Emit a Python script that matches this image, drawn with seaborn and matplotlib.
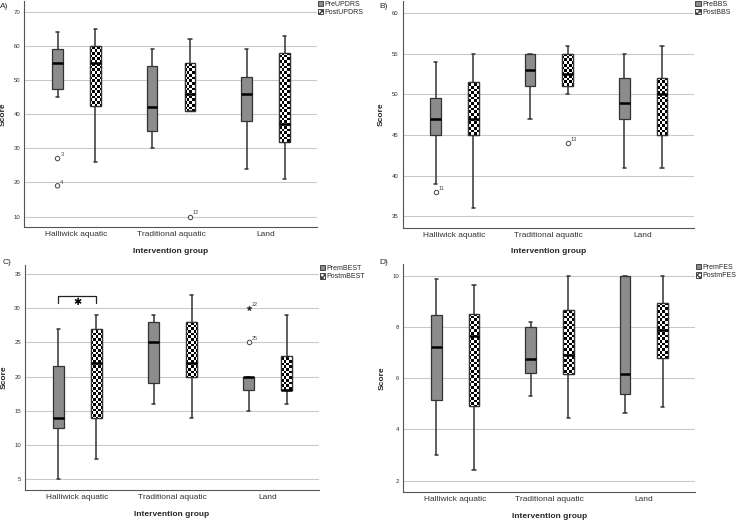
import numpy as np
import pandas as pd
import matplotlib.pyplot as plt
import seaborn as sns
from matplotlib.colors import same_color
from matplotlib.patches import Patch, PathPatch

groups = ["Halliwick aquatic", "Traditional aquatic", "Land"]
times = ["Pre", "Post"]

# five-number summaries: [whisker low, Q1, median, Q3, whisker high]
updrs_pre = [[45, 47.5, 55, 59, 64], [30, 35, 42, 54, 59], [24, 38, 46, 51, 59]]
updrs_post = [[26, 42.5, 55, 60, 65], [41, 41, 46, 55, 62], [21, 32, 37, 58, 63]]
updrs_outliers = [("Halliwick aquatic", "Pre", 27, "3", "o"),
                  ("Halliwick aquatic", "Pre", 19, "4", "o"),
                  ("Traditional aquatic", "Post", 10, "12", "o")]

bbs_pre = [[39, 45, 47, 49.5, 54], [47, 51, 53, 55, 55], [41, 47, 49, 52, 55]]
bbs_post = [[36, 45, 47, 51.5, 55], [50, 51, 52.5, 55, 56], [41, 45, 50, 52, 56]]
bbs_outliers = [("Halliwick aquatic", "Pre", 38, "11", "o"),
                ("Traditional aquatic", "Post", 44, "13", "o")]

best_pre = [[5, 12.5, 14, 21.5, 27], [16, 19, 25, 28, 29], [15, 18, 20, 20, 20]]
best_post = [[8, 14, 22, 27, 29], [14, 20, 22, 28, 32], [16, 18, 18, 23, 29]]
best_outliers = [("Land", "Pre", 30, "22", "*"),
                 ("Land", "Pre", 25, "25", "o")]

fes_pre = [[3.0, 5.15, 7.22, 8.47, 9.87], [5.3, 6.2, 6.75, 8.0, 8.2], [4.65, 5.37, 6.15, 10, 10]]
fes_post = [[2.42, 4.93, 7.65, 8.5, 9.65], [4.43, 6.15, 6.9, 8.65, 10], [4.87, 6.8, 7.87, 8.92, 10]]
fes_outliers = []

PRE_COLOR = "#8c8c8c"
LINE_COLOR = "#333333"


def make_frame(pre, post):
    rows = []
    for g, p, q in zip(groups, pre, post):
        rows += [(g, "Pre", v) for v in p]
        rows += [(g, "Post", v) for v in q]
    return pd.DataFrame(rows, columns=["group", "time", "score"])


def checker_fill(ax):
    """Fill the white (post) boxes with a black/white checkerboard."""
    x0, x1 = ax.get_xlim()
    y0, y1 = ax.get_ylim()
    nx, ny = int(ax.bbox.width / 2.7), int(ax.bbox.height / 2.7)
    board = np.indices((ny, nx)).sum(axis=0) % 2
    for patch in list(ax.patches):
        if np.allclose(patch.get_facecolor()[:3], 1):
            z = patch.get_zorder()
            img = ax.imshow(board, cmap="gray", vmin=0, vmax=1, extent=(x0, x1, y0, y1),
                            aspect="auto", interpolation="nearest", zorder=z + 0.01)
            img.set_clip_path(patch)
            ax.add_patch(PathPatch(patch.get_path(), transform=patch.get_transform(),
                                   fill=False, edgecolor=LINE_COLOR, lw=0.9, zorder=z + 0.02))
    # keep medians, whiskers and caps on top of the pattern
    for line in ax.lines:
        line.set_zorder(3)
    ax.set_xlim(x0, x1)
    ax.set_ylim(y0, y1)


def shorten_caps(ax, factor=0.6):
    for line in ax.lines:
        x, y = np.asarray(line.get_xdata(), float), np.asarray(line.get_ydata(), float)
        if len(x) == 2 and y[0] == y[1] and not same_color(line.get_color(), "black"):
            mid, half = x.mean(), (x[1] - x[0]) / 2 * factor
            line.set_xdata([mid - half, mid + half])


def draw_panel(fig, rect, pre, post, outliers, ylim, ticks, names, letter, letter_xy):
    ax = fig.add_axes(rect)
    df = make_frame(pre, post)
    sns.boxplot(data=df, x="group", y="score", hue="time", order=groups, hue_order=times,
                palette={"Pre": PRE_COLOR, "Post": "white"}, whis=np.inf, width=0.8, gap=0.72,
                linewidth=0.9, linecolor=LINE_COLOR, showfliers=False, legend=False,
                medianprops={"color": "black", "linewidth": 1.8},
                whiskerprops={"color": LINE_COLOR, "linewidth": 1.1},
                capprops={"color": LINE_COLOR, "linewidth": 1.1}, ax=ax)
    shorten_caps(ax)

    for mark in ["o", "*"]:
        sub = [o for o in outliers if o[4] == mark]
        if not sub:
            continue
        odf = pd.DataFrame(sub, columns=["group", "time", "score", "label", "marker"])
        face = "white" if mark == "o" else "black"
        sns.stripplot(data=odf, x="group", y="score", hue="time", order=groups, hue_order=times,
                      palette={"Pre": face, "Post": face}, dodge=True, jitter=False,
                      marker=mark, size=3.2 if mark == "o" else 3.5, edgecolor="#444444",
                      linewidth=0.7, legend=False, zorder=4, ax=ax)
    for g, t, v, lab, _ in outliers:
        xpos = groups.index(g) + (-0.2 if t == "Pre" else 0.2)
        ax.annotate(lab, (xpos, v), xytext=(2, 1.5), textcoords="offset points",
                    fontsize=4, color="#444444")

    ax.set_xlim(-0.55, 2.54)
    ax.set_ylim(*ylim)
    ax.set_yticks(ticks)
    ax.yaxis.grid(True, color="#c9c9c9", linewidth=0.8)
    ax.set_axisbelow(True)
    for side in ["top", "right"]:
        ax.spines[side].set_visible(False)
    for side in ["left", "bottom"]:
        ax.spines[side].set_color("#555555")
        ax.spines[side].set_linewidth(0.8)
    ax.tick_params(axis="y", length=0, labelsize=4.3, pad=3, labelcolor="#333333")
    ax.tick_params(axis="x", length=0, labelsize=6, pad=3, labelcolor="#333333")
    ax.set_xlabel("Intervention group", fontsize=6, fontweight="bold", labelpad=7)
    ax.set_ylabel("Score", fontsize=6, fontweight="bold", labelpad=5)

    checker_fill(ax)

    handles = [Patch(facecolor=PRE_COLOR, edgecolor="#444444", lw=0.7),
               Patch(facecolor="white", edgecolor="#444444", lw=0.7, hatch="xxxxxx")]
    ax.legend(handles, names, loc="upper left", bbox_to_anchor=(1.003, 1.0), frameon=False,
              fontsize=5, handlelength=0.8, handleheight=0.8, handletextpad=0.2,
              borderaxespad=0, borderpad=0, labelspacing=0.15)
    fig.text(letter_xy[0], letter_xy[1], letter, fontsize=6, ha="left", va="center")
    return ax


def main():
    sns.set_theme(style="white")
    plt.rcParams["font.family"] = ["Liberation Sans", "DejaVu Sans"]
    plt.rcParams["hatch.linewidth"] = 1.0

    fig = plt.figure(figsize=(7.4, 5.22), dpi=100)

    draw_panel(fig, [0.033, 0.565, 0.395, 0.433], updrs_pre, updrs_post, updrs_outliers,
               (6.9, 73.2), np.arange(10, 71, 10), ["PreUPDRS", "PostUPDRS"], "A)", (0.0, 0.988))
    draw_panel(fig, [0.544, 0.564, 0.394, 0.434], bbs_pre, bbs_post, bbs_outliers,
               (33.6, 61.5), np.arange(35, 61, 5), ["PreBBS", "PostBBS"], "B)", (0.513, 0.988))
    ax_c = draw_panel(fig, [0.034, 0.061, 0.397, 0.431], best_pre, best_post, best_outliers,
                      (3.4, 36.3), np.arange(5, 36, 5), ["PremBEST", "PostmBEST"], "C)", (0.004, 0.497))
    draw_panel(fig, [0.545, 0.058, 0.394, 0.436], fes_pre, fes_post, fes_outliers,
               (1.57, 10.45), np.arange(2, 11, 2), ["PremFES", "PostmFES"], "D)", (0.513, 0.497))

    # significance bracket between pre and post in the Halliwick group (panel C)
    ax_c.plot([-0.2, -0.2, 0.2, 0.2], [30.8, 31.8, 31.8, 30.8], color="#222222", lw=0.9)
    ax_c.text(0.0, 30.9, "\u2731", ha="center", va="center", fontsize=7,
              family=["DejaVu Sans"], color="black")

    fig.savefig("out.png", dpi=100)


if __name__ == "__main__":
    main()
